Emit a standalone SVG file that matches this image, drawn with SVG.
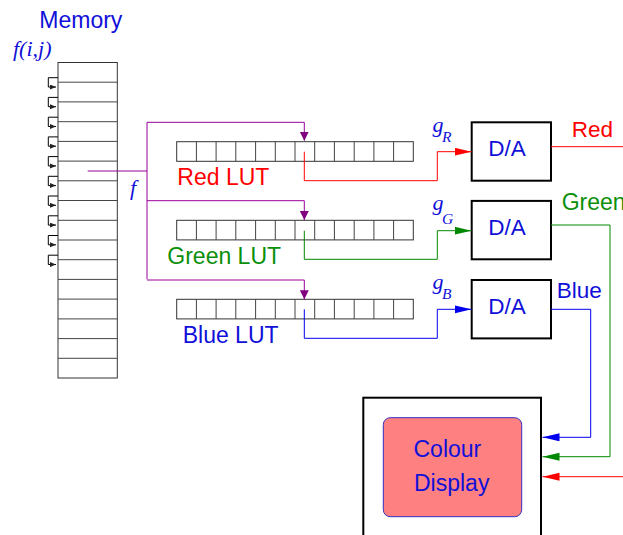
<svg xmlns="http://www.w3.org/2000/svg" width="623" height="535" viewBox="0 0 623 535">
<style>
.sans{font-family:"Liberation Sans",Arial,sans-serif;font-size:22.5px}
.math{font-family:"Liberation Serif","Times New Roman",serif;font-style:italic}
.cell{fill:#fff;stroke:#333;stroke-width:1}
.grid{stroke:#444;stroke-width:1;fill:none}
.box{fill:#fff;stroke:#000;stroke-width:2}
.blue{fill:#1010d8}
.red{fill:#ff0000}
.green{fill:#0a8f0a}
.pl{fill:none;stroke:#990099;stroke-width:1}
</style>
<defs>
<marker id="ap" markerUnits="userSpaceOnUse" markerWidth="10" markerHeight="10" refX="9" refY="4.5" orient="auto"><path d="M0,0 L9,4.5 L0,9 z" fill="#800080"/></marker>
<marker id="ar" markerUnits="userSpaceOnUse" markerWidth="18" markerHeight="9" refX="17" refY="4" orient="auto"><path d="M0,0 L17,4 L0,8 z" fill="#ff0000"/></marker>
<marker id="ag" markerUnits="userSpaceOnUse" markerWidth="18" markerHeight="9" refX="17" refY="4" orient="auto"><path d="M0,0 L17,4 L0,8 z" fill="#008800"/></marker>
<marker id="ab" markerUnits="userSpaceOnUse" markerWidth="18" markerHeight="9" refX="17" refY="4" orient="auto"><path d="M0,0 L17,4 L0,8 z" fill="#0000ee"/></marker>
<marker id="ak" markerUnits="userSpaceOnUse" markerWidth="7" markerHeight="6" refX="6" refY="2.5" orient="auto"><path d="M0,0 L6,2.5 L0,5 z" fill="#222"/></marker>
</defs>

<g id="memory">
<text class="sans blue" x="39.3" y="28.3" style="font-size:23px">Memory</text>
<text class="math blue" x="13" y="56" style="font-size:22px">f(i,j)</text>
<rect class="cell" x="58" y="62.5" width="59.3" height="315.5"/>
<path class="grid" d="M58,82.2H117.3M58,101.9H117.3M58,121.7H117.3M58,141.4H117.3M58,161.1H117.3M58,180.8H117.3M58,200.5H117.3M58,220.3H117.3M58,240H117.3M58,259.7H117.3M58,279.4H117.3M58,299.1H117.3M58,318.9H117.3M58,338.6H117.3M58,358.3H117.3"/>
<g fill="none" stroke="#000" stroke-width="1" marker-end="url(#ak)">
<path d="M58,77.7H48.3V87H56"/>
<path d="M58,97.4H48.3V106.7H56"/>
<path d="M58,117.2H48.3V126.5H56"/>
<path d="M58,136.9H48.3V146.2H56"/>
<path d="M58,156.6H48.3V165.9H56"/>
<path d="M58,176.3H48.3V185.6H56"/>
<path d="M58,196H48.3V205.3H56"/>
<path d="M58,215.8H48.3V225.1H56"/>
<path d="M58,235.5H48.3V244.8H56"/>
<path d="M58,255.2H48.3V264.5H56"/>
</g>
</g>

<g id="red-lut">
<rect class="cell" x="176.7" y="141.7" width="236.6" height="19.6"/>
<path class="grid" d="M196.4,141.7V161.3M216.1,141.7V161.3M235.8,141.7V161.3M255.6,141.7V161.3M275.3,141.7V161.3M295,141.7V161.3M314.7,141.7V161.3M334.4,141.7V161.3M354.2,141.7V161.3M373.9,141.7V161.3M393.6,141.7V161.3"/>
<text class="sans red" x="177.3" y="185" style="font-size:23px">Red LUT</text>
</g>
<g id="green-lut">
<rect class="cell" x="176.7" y="220.3" width="236.6" height="19.6"/>
<path class="grid" d="M196.4,220.3V239.9M216.1,220.3V239.9M235.8,220.3V239.9M255.6,220.3V239.9M275.3,220.3V239.9M295,220.3V239.9M314.7,220.3V239.9M334.4,220.3V239.9M354.2,220.3V239.9M373.9,220.3V239.9M393.6,220.3V239.9"/>
<text class="sans green" x="167.3" y="264" style="font-size:23px">Green LUT</text>
</g>
<g id="blue-lut">
<rect class="cell" x="176.7" y="299.3" width="236.6" height="19.6"/>
<path class="grid" d="M196.4,299.3V318.9M216.1,299.3V318.9M235.8,299.3V318.9M255.6,299.3V318.9M275.3,299.3V318.9M295,299.3V318.9M314.7,299.3V318.9M334.4,299.3V318.9M354.2,299.3V318.9M373.9,299.3V318.9M393.6,299.3V318.9"/>
<text class="sans blue" x="182.7" y="343.3" style="font-size:23px">Blue LUT</text>
</g>

<g id="da-red">
<rect class="box" x="471.7" y="122.3" width="79.3" height="58.4"/>
<text class="sans blue" x="507" y="156" text-anchor="middle">D/A</text>
</g>
<g id="da-green">
<rect class="box" x="471.7" y="200.9" width="79.3" height="58.4"/>
<text class="sans blue" x="507" y="234.6" text-anchor="middle">D/A</text>
</g>
<g id="da-blue">
<rect class="box" x="471.7" y="280" width="79.3" height="58.4"/>
<text class="sans blue" x="507" y="313.7" text-anchor="middle">D/A</text>
</g>

<g id="display">
<rect class="box" x="363.3" y="397.7" width="177.7" height="150"/>
<rect x="383.3" y="417.7" width="138.4" height="99" rx="7" fill="#ff8080" stroke="#3030c0" stroke-width="1"/>
<text class="sans blue" x="413.5" y="457.3" style="font-size:23px">Colour</text>
<text class="sans blue" x="414" y="490.7" style="font-size:23px">Display</text>
</g>

<g id="connectors">
<path class="pl" d="M87.7,171H147M147,122.3V279.3"/>
<path class="pl" d="M147,122.3H304.3V140.7" marker-end="url(#ap)"/>
<path class="pl" d="M147,200.7H304.3V220" marker-end="url(#ap)"/>
<path class="pl" d="M147,280H304.3V299.3" marker-end="url(#ap)"/>
<text class="math blue" x="130" y="195" style="font-size:22px">f</text>

<path d="M304.3,151.7V180.7H437.3V151.7H471.5" fill="none" stroke="#ff0000" stroke-width="1" marker-end="url(#ar)"/>
<path d="M304.3,230.7V259.3H437.3V230.7H471.5" fill="none" stroke="#008800" stroke-width="1" marker-end="url(#ag)"/>
<path d="M304.3,309.3V338.3H437.3V309.3H471.5" fill="none" stroke="#0000ee" stroke-width="1" marker-end="url(#ab)"/>

<text class="math blue" x="432.5" y="131.5" style="font-size:22px">g<tspan x="442" y="141.7" style="font-size:15.5px">R</tspan></text>
<text class="math blue" x="432.5" y="210.2" style="font-size:22px">g<tspan x="442" y="224" style="font-size:15.5px">G</tspan></text>
<text class="math blue" x="432.5" y="288.9" style="font-size:22px">g<tspan x="442" y="298.9" style="font-size:15.5px">B</tspan></text>

<path d="M551,146.7H640V476.7H542.5" fill="none" stroke="#ff0000" stroke-width="1" marker-end="url(#ar)"/>
<path d="M551,225H610V456.7H542.5" fill="none" stroke="#008800" stroke-width="1" marker-end="url(#ag)"/>
<path d="M551,309.3H590.7V437.3H542.5" fill="none" stroke="#0000ee" stroke-width="1" marker-end="url(#ab)"/>

<text class="sans red" x="571.7" y="136.7">Red</text>
<text class="sans green" x="561.7" y="210" style="font-size:23px">Green</text>
<text class="sans blue" x="556.7" y="298.3">Blue</text>
</g>
</svg>
